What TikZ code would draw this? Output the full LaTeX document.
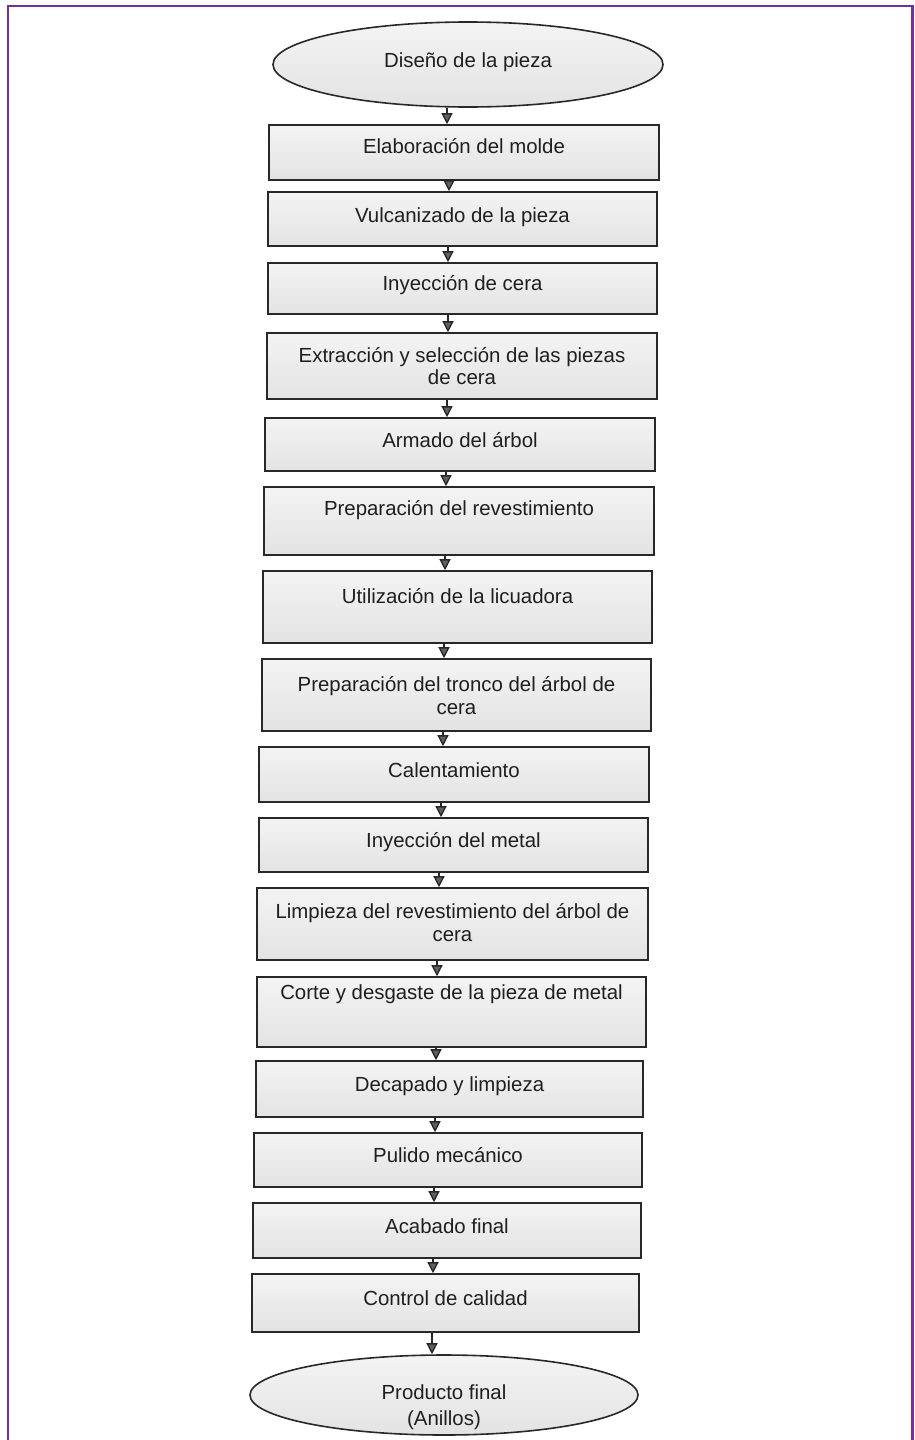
\documentclass[tikz,border=0pt]{standalone}
\usepackage{fontspec}
\setmainfont{Liberation Sans}
\usetikzlibrary{arrows.meta,shapes.geometric}
\definecolor{frame}{RGB}{112,48,160}
\definecolor{edge}{RGB}{40,40,40}
\begin{document}
\begin{tikzpicture}[x=1pt,y=-1pt,
  boxbase/.style={draw=edge, line width=1.6pt, inner sep=0pt, top color=gray!9, bottom color=gray!22},
  proc/.style={boxbase, rectangle},
  term/.style={boxbase, ellipse},
  lab/.style={font=\fontsize{20.4}{24}\selectfont, text=black!88, inner sep=0pt, text height=14.6pt, text depth=0pt},
  arr/.style={draw=gray!30!black, line width=1.3pt, -{Triangle[width=11pt,length=11pt,fill=gray!75!black]}}
]
\useasboundingbox (0,0) rectangle (914,1440);
\fill[white] (0,0) rectangle (914,1440);
\draw[frame, line width=2.6pt] (8,1445) -- (8,6) -- (912.5,6) -- (912.5,1445);

\node[term, minimum width=390pt, minimum height=85pt, label={[lab,yshift=4.5pt]center:Diseño de la pieza}] (e1) at (468,64.5) {};
\node[proc, minimum width=390pt, minimum height=55pt, label={[lab,yshift=6.5pt]center:Elaboración del molde}] (b1) at (464,152.5) {};
\node[proc, minimum width=389pt, minimum height=54pt, label={[lab,yshift=4pt]center:Vulcanizado de la pieza}] (b2) at (462.5,219) {};
\node[proc, minimum width=389pt, minimum height=51pt, label={[lab,yshift=5.5pt]center:Inyección de cera}] (b3) at (462.5,288.5) {};
\node[proc, minimum width=390pt, minimum height=66pt, label={[lab,yshift=11pt]center:Extracción y selección de las piezas}, label={[lab,yshift=-11pt]center:de cera}] (b4) at (462,366) {};
\node[proc, minimum width=390pt, minimum height=53pt, label={[lab,yshift=4.5pt]center:Armado del árbol}] (b5) at (460,444.5) {};
\node[proc, minimum width=390pt, minimum height=68pt, label={[lab,yshift=13pt]center:Preparación del revestimiento}] (b6) at (459,521) {};
\node[proc, minimum width=389pt, minimum height=72pt, label={[lab,yshift=11pt]center:Utilización de la licuadora}] (b7) at (457.5,607) {};
\node[proc, minimum width=389pt, minimum height=72pt, label={[lab,yshift=11pt]center:Preparación del tronco del árbol de}, label={[lab,yshift=-12pt]center:cera}] (b8) at (456.5,695) {};
\node[proc, minimum width=390pt, minimum height=55pt, label={[lab,yshift=4.5pt]center:Calentamiento}] (b9) at (454,774.5) {};
\node[proc, minimum width=389pt, minimum height=54pt, label={[lab,yshift=5pt]center:Inyección del metal}] (b10) at (453.5,845) {};
\node[proc, minimum width=391pt, minimum height=72pt, label={[lab,yshift=13pt]center:Limpieza del revestimiento del árbol de}, label={[lab,yshift=-10pt]center:cera}] (b11) at (452.5,924) {};
\node[proc, minimum width=389pt, minimum height=70pt, label={[lab,yshift=20pt]center:Corte y desgaste de la pieza de metal}] (b12) at (451.5,1012) {};
\node[proc, minimum width=387pt, minimum height=56pt, label={[lab,yshift=5pt]center:Decapado y limpieza}] (b13) at (449.5,1089) {};
\node[proc, minimum width=388pt, minimum height=54pt, label={[lab,yshift=5pt]center:Pulido mecánico}] (b14) at (448,1160) {};
\node[proc, minimum width=388pt, minimum height=55pt, label={[lab,yshift=4.5pt]center:Acabado final}] (b15) at (447,1230.5) {};
\node[proc, minimum width=387pt, minimum height=58pt, label={[lab,yshift=5pt]center:Control de calidad}] (b16) at (445.5,1303) {};
\node[term, minimum width=388pt, minimum height=80pt, label={[lab,yshift=3pt]center:Producto final}, label={[lab,yshift=-23pt]center:(Anillos)}] (e2) at (444,1395) {};

\foreach \a/\b/\x in {e1/b1/447, b1/b2/449, b2/b3/448, b3/b4/448, b4/b5/447, b5/b6/446, b6/b7/445, b7/b8/444, b8/b9/443, b9/b10/441, b10/b11/439, b11/b12/437, b12/b13/436, b13/b14/435, b14/b15/434, b15/b16/433, b16/e2/432}
  \draw[arr] (\a.south -| \x,0) -- (\b.north -| \x,0);
\end{tikzpicture}
\end{document}
